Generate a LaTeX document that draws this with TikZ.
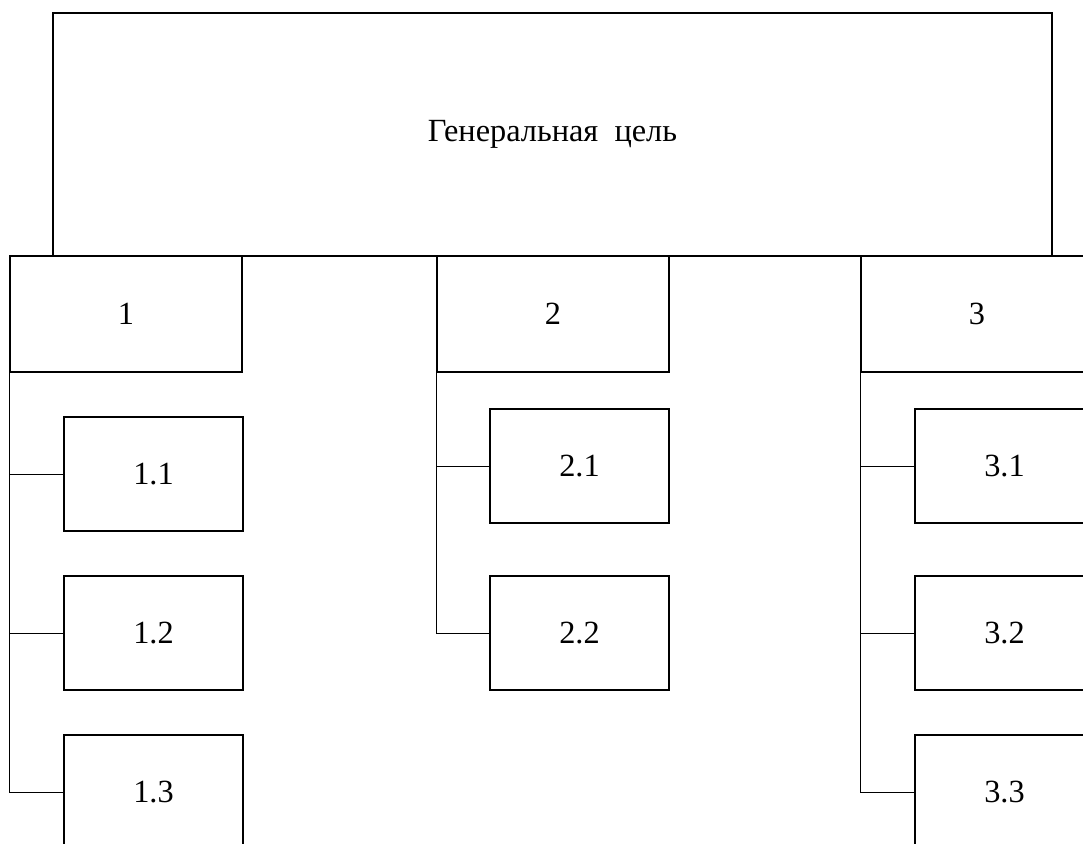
\documentclass[tikz,border=0pt]{standalone}
\usepackage{fontspec}
\setmainfont{Liberation Serif}
\usetikzlibrary{positioning}

\begin{document}
\begin{tikzpicture}[
  x=0.025cm, y=-0.025cm,
  font=\fontsize{23}{28}\selectfont,
  goal/.style={draw, line width=1.3pt, minimum width=24.975cm, minimum height=6.075cm, inner sep=0pt, align=center},
  branch/.style={draw, line width=1.3pt, minimum width=5.8cm, minimum height=2.9cm, inner sep=0pt},
  leaf/.style={draw, line width=1.3pt, minimum width=4.475cm, minimum height=2.85cm, inner sep=0pt},
  link/.style={line width=0.6pt}
]
\clip (0,0) rectangle (1083,843);
\fill[white] (0,0) rectangle (1083,843);

% top
\node[goal] (goal) at (552.5, 134.5) {Генеральная~~цель};

% branches
\node[branch] (b1) at (126, 314) {1};
\node[branch] (b2) at (553, 314) {2};
\node[branch] (b3) at (977, 314) {3};

% leaves
\node[leaf] (b11) at (153.5, 474) {1.1};
\node[leaf] (b12) at (153.5, 633) {1.2};
\node[leaf] (b13) at (153.5, 792) {1.3};

\node[leaf] (b21) at (579.5, 466) {2.1};
\node[leaf] (b22) at (579.5, 633) {2.2};

\node[leaf] (b31) at (1004.5, 466) {3.1};
\node[leaf] (b32) at (1004.5, 633) {3.2};
\node[leaf] (b33) at (1004.5, 792) {3.3};

\draw[link] (b1.south west) |- (b11.west);
\draw[link] (b1.south west) |- (b12.west);
\draw[link] (b1.south west) |- (b13.west);

\draw[link] (b2.south west) |- (b21.west);
\draw[link] (b2.south west) |- (b22.west);

\draw[link] (b3.south west) |- (b31.west);
\draw[link] (b3.south west) |- (b32.west);
\draw[link] (b3.south west) |- (b33.west);
\end{tikzpicture}
\end{document}
